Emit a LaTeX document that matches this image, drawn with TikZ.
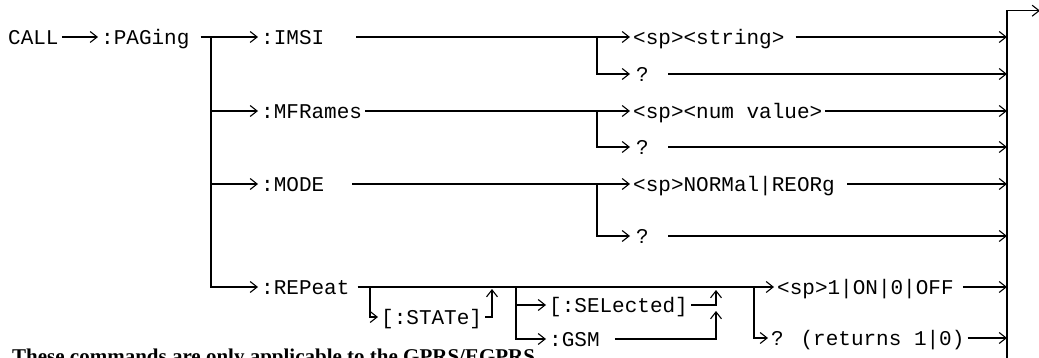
\documentclass[tikz,border=0pt]{standalone}
\usepackage{fontspec}
\setmainfont{Liberation Serif}
\newfontfamily\cmdfont{Liberation Mono}
\usetikzlibrary{positioning,arrows.meta}
\tikzset{
  cmd/.style ={font=\cmdfont\fontsize{21}{21}\selectfont, inner xsep=3pt,
               inner ysep=0pt, text height=15pt, text depth=0pt, anchor=west},
  % query nodes sit a little further from their arrow
  qm/.style  ={cmd, inner xsep=6pt},
  flow/.style={-{Straight Barb[length=7pt,width=11pt]}, line width=1.1pt},
  wire/.style={line width=1.1pt},
  lead/.style={shorten <=#1},
  note/.style={font=\bfseries\fontsize{21}{21}\selectfont, inner sep=0pt,
               anchor=base west},
}
\begin{document}
\begin{tikzpicture}[x=1pt,y=-1pt]
    \useasboundingbox (0,0) rectangle (1039,358);
    % root
    \node[cmd] (call)   at (5,37)   {CALL};
    \node[cmd] (paging) at (98,37)  {:PAGing};
    % first level
    \node[cmd] (imsi)    at (258,37)  {:IMSI};
    \node[cmd] (mframes) at (258,111) {:MFRames};
    \node[cmd] (mode)    at (258,184) {:MODE};
    \node[cmd] (rep)     at (258,287) {:REPeat};
    % parameters
    \node[cmd] (imsiarg) at (630,37)  {<sp><string>};
    \node[qm]  (imsiq)   at (630,74)  {?};
    \node[cmd] (mfarg)   at (630,111) {<sp><num value>};
    \node[qm]  (mfq)     at (630,147) {?};
    \node[cmd] (modearg) at (630,184) {<sp>NORMal|REORg};
    \node[qm]  (modeq)   at (630,236) {?};
    % repeat branch
    \node[cmd] (state)    at (378,317) {[:STATe]};
    \node[cmd] (selected) at (546,305) {[:SELected]};
    \node[cmd] (gsm)      at (546,339) {:GSM};
    \node[cmd] (repon)    at (774,287) {<sp>1|ON|0|OFF};
    \node[cmd] (repq)     at (768,338) {? (returns 1|0)};
    % junctions
    \coordinate (pj)  at (211,37);
    \coordinate (qj1) at (597,37);
    \coordinate (qj2) at (597,111);
    \coordinate (qj3) at (597,184);
    \coordinate (sj)  at (370,287);
    \coordinate (stip) at (492,289);
    \coordinate (gj)  at (516,287);
    \coordinate (seltip) at (716,290);
    \coordinate (gsmtip) at (716,311);
    \coordinate (rj)  at (754,287);
    % return bus
    \coordinate (b1) at (1007,37);
    \coordinate (b2) at (1007,74);
    \coordinate (b3) at (1007,111);
    \coordinate (b4) at (1007,147);
    \coordinate (b5) at (1007,184);
    \coordinate (b6) at (1007,236);
    \coordinate (b7) at (1007,287);
    \coordinate (b8) at (1007,338);
    \coordinate (busbot) at (1007,362);
    \coordinate (bustop) at (1007,10.7);
    \coordinate (busend) at (1040,10.7);
    % flows
    \draw[flow] (call) -- (paging);
    \draw[flow, lead=8pt] (paging) -- (imsi);
    \draw[flow] (pj) |- (mframes);
    \draw[flow] (pj) |- (mode);
    \draw[flow] (pj) |- (rep);
    \draw[flow, lead=29pt] (imsi) -- (imsiarg);
    \draw[flow] (mframes) -- (mfarg);
    \draw[flow, lead=25pt] (mode) -- (modearg);
    \draw[flow] (qj1) |- (imsiq);
    \draw[flow] (qj2) |- (mfq);
    \draw[flow] (qj3) |- (modeq);
    \draw[flow, lead=5pt] (rep) -- (repon);
    \draw[flow] (sj) |- (state);
    \draw[flow] (state) -| (stip);
    \draw[flow] (gj) |- (selected);
    \draw[flow] (gj) |- (gsm);
    \draw[flow] (selected) -| (seltip);
    \draw[flow, lead=12pt] (gsm) -| (gsmtip);
    \draw[flow] (rj) |- (repq);
    % into the bus
    \draw[flow, lead=8pt]  (imsiarg) -- (b1);
    \draw[flow, lead=13pt] (imsiq) -- (b2);
    \draw[flow]            (mfarg) -- (b3);
    \draw[flow, lead=13pt] (mfq) -- (b4);
    \draw[flow, lead=9pt]  (modearg) -- (b5);
    \draw[flow, lead=13pt] (modeq) -- (b6);
    \draw[flow, lead=6pt]  (repon) -- (b7);
    \draw[flow]            (repq) -- (b8);
    \draw[flow] (busbot) -- (bustop) -- (busend);
    % footnote, cut by the page edge
    \node[note] (foot) at (12,363) {These commands are only applicable to the GPRS/EGPRS};
  \end{tikzpicture}
\end{document}
